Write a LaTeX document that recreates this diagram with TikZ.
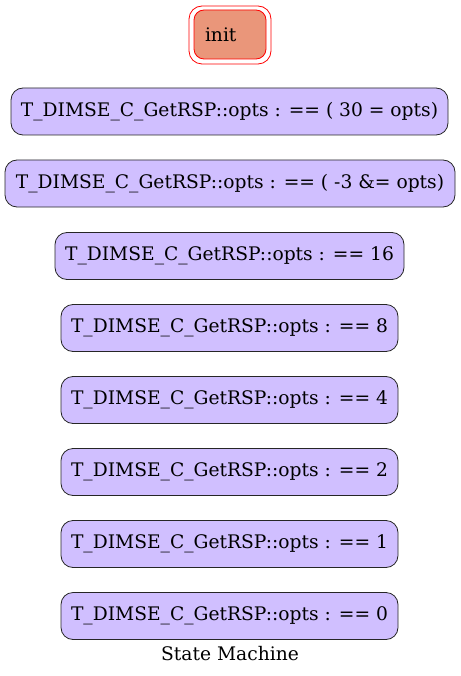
\documentclass[tikz,border=0pt]{standalone}
\usepackage{fontspec}
\setmainfont{DejaVu Serif}
\definecolor{statefill}{RGB}{208,191,255}
\definecolor{initfill}{RGB}{234,150,122}
\begin{document}
\begin{tikzpicture}[x=1pt,y=-1pt,
  txt/.style={font=\fontsize{18.67pt}{21pt}\selectfont},
  state/.style={txt, draw=black!85, fill=statefill, rounded corners=12pt, minimum height=47pt, inner sep=0pt, line width=0.8pt}]
\useasboundingbox (0,0) rectangle (460,676);
\node[draw=red, rounded corners=13pt, minimum width=82pt, minimum height=58pt, line width=0.8pt] (initouter) at (230,35) {};
\node[txt, draw=red, fill=initfill, rounded corners=10pt, minimum width=72pt, minimum height=49pt, inner sep=0pt, line width=0.8pt, text width=50pt, align=left] (init) at (230,34.5) {init};
\node[state, minimum width=437pt] (s1) at (229.5,111.5) {T\_DIMSE\_C\_GetRSP::opts : == ( 30 = opts)};
\node[state, minimum width=450pt] (s2) at (230,183.5) {T\_DIMSE\_C\_GetRSP::opts : == ( -3 \&= opts)};
\node[state, minimum width=349pt] (s3) at (229.5,256) {T\_DIMSE\_C\_GetRSP::opts : == 16};
\node[state, minimum width=337pt] (s4) at (229.5,328) {T\_DIMSE\_C\_GetRSP::opts : == 8};
\node[state, minimum width=337pt] (s5) at (229.5,400) {T\_DIMSE\_C\_GetRSP::opts : == 4};
\node[state, minimum width=337pt] (s6) at (229.5,472) {T\_DIMSE\_C\_GetRSP::opts : == 2};
\node[state, minimum width=337pt] (s7) at (229.5,544) {T\_DIMSE\_C\_GetRSP::opts : == 1};
\node[state, minimum width=337pt] (s8) at (229.5,616) {T\_DIMSE\_C\_GetRSP::opts : == 0};
\node[txt] (label) at (230,654) {State Machine};
\end{tikzpicture}
\end{document}
